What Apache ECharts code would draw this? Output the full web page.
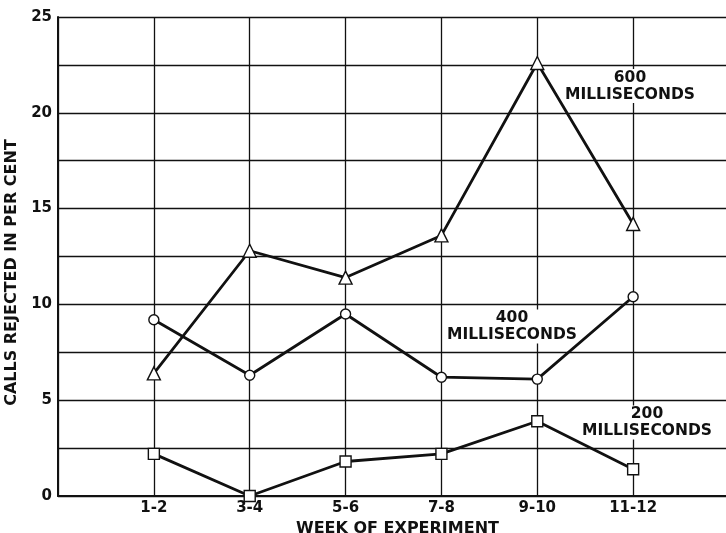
<!DOCTYPE html>
<html>
<head>
<meta charset="utf-8">
<script src="https://cdn.jsdelivr.net/npm/echarts@6/dist/echarts.min.js"></script>
<style>html,body{margin:0;padding:0;background:#fff;overflow:hidden}#c{width:726px;height:533px}</style>
</head>
<body>
<div id="c"></div>
<script>
const weeks = ['1-2', '3-4', '5-6', '7-8', '9-10', '11-12'];
const ms600 = [6.4, 12.8, 11.4, 13.6, 22.6, 14.2];
const ms400 = [9.2, 6.3, 9.5, 6.2, 6.1, 10.4];
const ms200 = [2.2, 0.0, 1.8, 2.2, 3.9, 1.4];
const yTicks = [0, 5, 10, 15, 20, 25];

const cats = [''].concat(weeks).concat(['']);
const pad = arr => [null].concat(arr).concat([null]);
const FONT = 'DejaVu Sans';
const ink = '#111';

function series(name, vals, symbol, size) {
  return {
    name: name, type: 'line', data: pad(vals), symbol: symbol, symbolSize: size,
    showAllSymbol: true, connectNulls: false,
    lineStyle: { color: ink, width: 2.8 },
    itemStyle: { color: '#fff', borderColor: ink, borderWidth: 1.4 },
    z: 5
  };
}

function note(cx, top, text) {
  return {
    type: 'text', x: cx, y: top, z: 1,
    style: {
      text: text, fontFamily: FONT, fontSize: 15.5, fontWeight: 'bold', fill: ink,
      align: 'center', verticalAlign: 'top', lineHeight: 17,
      backgroundColor: '#fff', padding: [0, 2]
    }
  };
}

const chart = echarts.init(document.getElementById('c'), null, { renderer: 'canvas' });
chart.setOption({
  animation: false,
  backgroundColor: '#fff',
  grid: { left: 58, top: 17, right: -3, bottom: 37, outerBoundsMode: 'none', containLabel: false },
  xAxis: {
    type: 'category', data: cats, boundaryGap: false,
    name: 'WEEK OF EXPERIMENT', nameLocation: 'middle', nameGap: 21,
    nameTextStyle: { fontFamily: FONT, fontSize: 16, fontWeight: 'bold', color: ink, padding: [0, 0, 0, 8] },
    axisLine: { lineStyle: { color: ink, width: 2 } },
    axisTick: { show: false },
    axisLabel: { fontFamily: FONT, fontSize: 15, fontWeight: 'bold', color: ink, margin: 5 },
    splitLine: { show: true, lineStyle: { color: ink, width: 1.3 } }
  },
  yAxis: {
    type: 'value', min: 0, max: 25, interval: 2.5,
    name: 'CALLS REJECTED IN PER CENT', nameLocation: 'middle', nameGap: 31, nameRotate: 90,
    nameTextStyle: { fontFamily: FONT, fontSize: 16, fontWeight: 'bold', color: ink, padding: [0, 32, 0, 0] },
    axisLine: { show: true, lineStyle: { color: ink, width: 2 } },
    axisTick: { show: false },
    axisLabel: {
      fontFamily: FONT, fontSize: 15, fontWeight: 'bold', color: ink, margin: 6,
      formatter: v => (yTicks.indexOf(v) >= 0 ? String(v) : '')
    },
    splitLine: { show: true, lineStyle: { color: ink, width: 1.3 } }
  },
  series: [
    series('600', ms600, 'triangle', 13),
    series('400', ms400, 'circle', 10),
    series('200', ms200, 'rect', 11)
  ],
  graphic: [
    note(630, 69, '600\nMILLISECONDS'),
    note(512, 309.5, '400\nMILLISECONDS'),
    note(647, 405.5, '200\nMILLISECONDS')
  ]
});
</script>
</body>
</html>
